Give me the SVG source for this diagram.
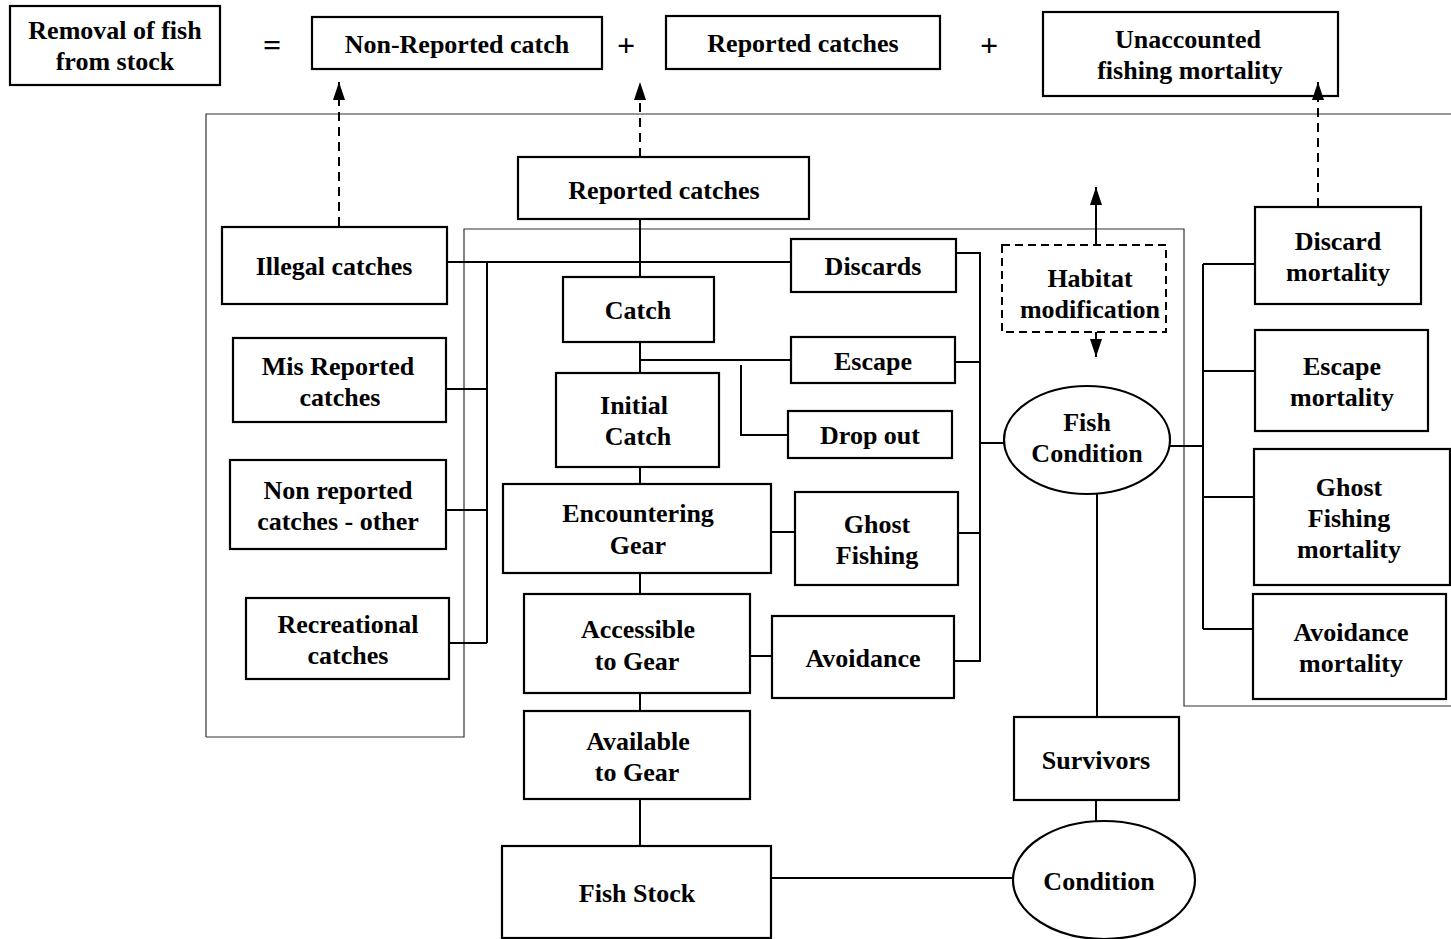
<svg xmlns="http://www.w3.org/2000/svg" width="1451" height="939" viewBox="0 0 1451 939">
<defs>
<marker id="arr" markerWidth="18" markerHeight="12" refX="18" refY="6" orient="auto" markerUnits="userSpaceOnUse" viewBox="0 0 18 12">
<path d="M0,0 L18,6 L0,12 Z" fill="#000"/>
</marker>
<style>
.b{fill:#fff;stroke:#000;stroke-width:2.2}
.d{fill:#fff;stroke:#000;stroke-width:2;stroke-dasharray:8,5}
.t{font-family:"Liberation Serif","Times New Roman",serif;font-weight:bold;font-size:26px;text-anchor:middle;fill:#000}
.op{font-size:32px}
.c{fill:none;stroke:#000;stroke-width:2}
.dash{fill:none;stroke:#000;stroke-width:2;stroke-dasharray:9,6}
.frame{fill:none;stroke:#333;stroke-width:1.2}
</style>
</defs>
<rect width="1451" height="939" fill="#fff"/>
<path class="frame" d="M206,737 L206,114 L1451,114 M1451,706 L1184,706 L1184,229 L464,229 L464,737 L206,737"/>
<g id="n-removal"><rect class="b" x="10" y="6" width="210" height="79"/><text class="t" x="115" y="39">Removal of fish</text><text class="t" x="115" y="70">from stock</text></g>
<text class="t op" x="272" y="56">=</text>
<g id="n-nonreported"><rect class="b" x="312" y="17" width="290" height="52"/><text class="t" x="457" y="53">Non-Reported catch</text></g>
<text class="t op" x="626" y="56">+</text>
<g id="n-reported-top"><rect class="b" x="666" y="16" width="274" height="53"/><text class="t" x="803" y="52">Reported catches</text></g>
<text class="t op" x="989" y="56">+</text>
<g id="n-unaccounted"><rect class="b" x="1043" y="12" width="295" height="84"/><text class="t" x="1188" y="48">Unaccounted</text><text class="t" x="1190" y="79">fishing mortality</text></g>
<g id="n-reported"><rect class="b" x="518" y="157" width="291" height="62"/><text class="t" x="664" y="199">Reported catches</text></g>
<g id="n-illegal"><rect class="b" x="222" y="227" width="225" height="77"/><text class="t" x="334" y="275">Illegal catches</text></g>
<g id="n-misreported"><rect class="b" x="233" y="338" width="213" height="84"/><text class="t" x="338" y="375">Mis Reported</text><text class="t" x="340" y="406">catches</text></g>
<g id="n-nonrep-other"><rect class="b" x="230" y="460" width="216" height="89"/><text class="t" x="338" y="499">Non reported</text><text class="t" x="338" y="530">catches - other</text></g>
<g id="n-recreational"><rect class="b" x="246" y="598" width="203" height="81"/><text class="t" x="348" y="633">Recreational</text><text class="t" x="348" y="664">catches</text></g>
<g id="n-catch"><rect class="b" x="563" y="277" width="151" height="65"/><text class="t" x="638" y="319">Catch</text></g>
<g id="n-initial"><rect class="b" x="556" y="373" width="163" height="94"/><text class="t" x="634" y="414">Initial</text><text class="t" x="638" y="445">Catch</text></g>
<g id="n-encountering"><rect class="b" x="503" y="484" width="268" height="89"/><text class="t" x="638" y="522">Encountering</text><text class="t" x="638" y="554">Gear</text></g>
<g id="n-accessible"><rect class="b" x="524" y="594" width="226" height="99"/><text class="t" x="638" y="638">Accessible</text><text class="t" x="637" y="670">to Gear</text></g>
<g id="n-available"><rect class="b" x="524" y="711" width="226" height="88"/><text class="t" x="638" y="750">Available</text><text class="t" x="637" y="781">to Gear</text></g>
<g id="n-fishstock"><rect class="b" x="502" y="846" width="269" height="92"/><text class="t" x="637" y="902">Fish Stock</text></g>
<g id="n-discards"><rect class="b" x="791" y="239" width="165" height="53"/><text class="t" x="873" y="275">Discards</text></g>
<g id="n-escape"><rect class="b" x="791" y="337" width="164" height="46"/><text class="t" x="873" y="370">Escape</text></g>
<g id="n-dropout"><rect class="b" x="788" y="411" width="164" height="47"/><text class="t" x="870" y="444">Drop out</text></g>
<g id="n-ghost"><rect class="b" x="795" y="492" width="163" height="93"/><text class="t" x="877" y="533">Ghost</text><text class="t" x="877" y="564">Fishing</text></g>
<g id="n-avoidance"><rect class="b" x="772" y="616" width="182" height="82"/><text class="t" x="863" y="667">Avoidance</text></g>
<g id="n-habitat"><rect class="d" x="1002" y="245" width="164" height="87"/><text class="t" x="1090" y="287">Habitat</text><text class="t" x="1090" y="318">modification</text></g>
<g id="n-fishcondition"><ellipse class="b" cx="1087" cy="440" rx="83" ry="54"/><text class="t" x="1087" y="431">Fish</text><text class="t" x="1087" y="462">Condition</text></g>
<g id="n-survivors"><rect class="b" x="1014" y="717" width="165" height="83"/><text class="t" x="1096" y="769">Survivors</text></g>
<g id="n-condition"><ellipse class="b" cx="1104" cy="880" rx="91" ry="59"/><text class="t" x="1099" y="890">Condition</text></g>
<g id="n-discard-mort"><rect class="b" x="1255" y="207" width="166" height="97"/><text class="t" x="1338" y="250">Discard</text><text class="t" x="1338" y="281">mortality</text></g>
<g id="n-escape-mort"><rect class="b" x="1255" y="330" width="173" height="101"/><text class="t" x="1342" y="375">Escape</text><text class="t" x="1342" y="406">mortality</text></g>
<g id="n-ghost-mort"><rect class="b" x="1254" y="449" width="196" height="136"/><text class="t" x="1349" y="496">Ghost</text><text class="t" x="1349" y="527">Fishing</text><text class="t" x="1349" y="558">mortality</text></g>
<g id="n-avoid-mort"><rect class="b" x="1253" y="594" width="193" height="105"/><text class="t" x="1351" y="641">Avoidance</text><text class="t" x="1351" y="672">mortality</text></g>
<g id="connectors">
<path class="dash" d="M339,226 V82" marker-end="url(#arr)"/>
<path class="dash" d="M640,157 V82" marker-end="url(#arr)"/>
<path class="dash" d="M1318,207 V82" marker-end="url(#arr)"/>
<path class="c" d="M1096,245 V187" marker-end="url(#arr)"/>
<path class="c" d="M1096,332 V357" marker-end="url(#arr)"/>
<path class="c" d="M640,219 V277"/>
<path class="c" d="M447,262 H791"/>
<path class="c" d="M487,262 V643 M446,389 H487 M446,510 H487 M449,643 H487"/>
<path class="c" d="M640,342 V373 M640,360 H791 M741,365 V435 H788"/>
<path class="c" d="M640,467 V484 M640,573 V594 M771,532 H795 M640,693 V711 M750,656 H772 M640,799 V846"/>
<path class="c" d="M771,878 H1013 M1096,821 V800 M1097,717 V494"/>
<path class="c" d="M956,253 H980 V661 H954 M955,362 H980 M958,533 H980 M980,443 H1004"/>
<path class="c" d="M1170,446 H1203 M1203,264 V629 M1203,264 H1255 M1203,371 H1255 M1203,497 H1254 M1203,629 H1253"/>
</g>
</svg>
